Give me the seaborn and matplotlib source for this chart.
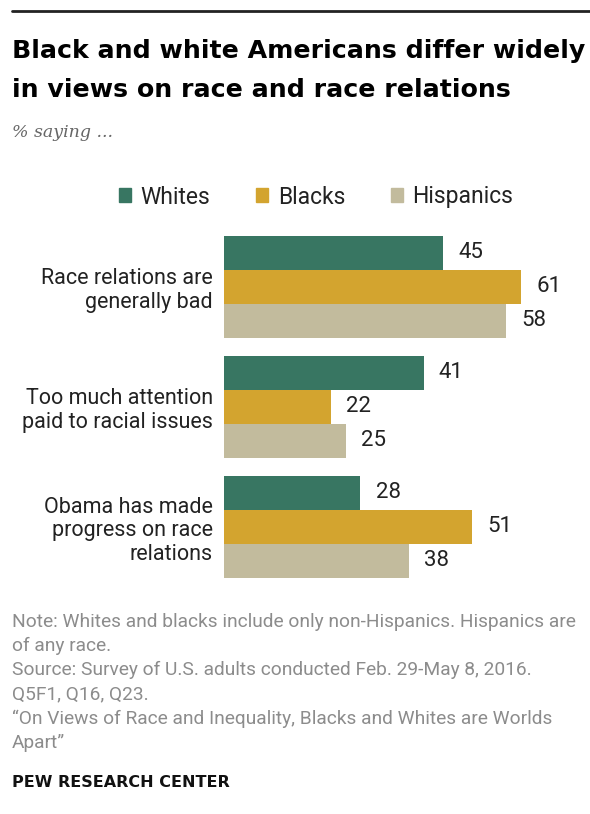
import matplotlib
matplotlib.use("Agg")
import matplotlib.pyplot as plt
import seaborn as sns
import pandas as pd

# Survey results (% saying ...)
statements = [
    "Race relations are\ngenerally bad",
    "Too much attention\npaid to racial issues",
    "Obama has made\nprogress on race\nrelations",
]
groups = ["Whites", "Blacks", "Hispanics"]
whites = [45, 41, 28]
blacks = [61, 22, 51]
hispanics = [58, 25, 38]
colors = ["#387662", "#d3a42f", "#c2bb9d"]

df = pd.DataFrame({
    "statement": statements * 3,
    "group": [g for g in groups for _ in statements],
    "value": whites + blacks + hispanics,
})

sns.set_style("white")
plt.rcParams["font.family"] = ["Roboto", "DejaVu Sans"]

fig = plt.figure(figsize=(5.9, 8.14), dpi=100)
W, H = 590, 814

ax = fig.add_axes([224 / W, 1 - 587 / H, 365 / W, 360 / H])
sns.barplot(data=df, y="statement", x="value", hue="group", order=statements,
            hue_order=groups, palette=colors, orient="h", width=0.85,
            saturation=1, ax=ax, legend=False, linewidth=0)

ax.set_xlim(0, 75)
ax.set_ylim(2.5, -0.5)
ax.set_xlabel("")
ax.set_ylabel("")
ax.set_xticks([])
ax.tick_params(axis="y", length=0, pad=8, labelsize=15.5, labelcolor="#222222")
for lbl in ax.get_yticklabels():
    lbl.set_multialignment("right")
    lbl.set_linespacing(1.15)
for s in ax.spines.values():
    s.set_visible(False)

for cont in ax.containers:
    ax.bar_label(cont, padding=11, fontsize=16, color="#222222")

# Legend across the top of the bars
handles = [plt.Rectangle((0, 0), 1, 1, color=c) for c in colors]
fig.legend(handles, groups, loc="center", bbox_to_anchor=(316 / W, 1 - 197 / H),
           ncol=3, frameon=False, fontsize=16.5, handlelength=0.55,
           handleheight=0.55, handletextpad=0.4, columnspacing=2.0,
           labelcolor="#222222")

# Top rule
fig.add_artist(plt.Line2D([12 / W, 1.0], [1 - 11 / H, 1 - 11 / H],
                          color="#222222", linewidth=2, transform=fig.transFigure))

# Title and subtitle
title_font = dict(fontsize=18.2, fontweight="bold", color="#000000",
                  va="baseline", family=["DejaVu Sans"])
fig.text(12 / W, 1 - 58 / H, "Black and white Americans differ widely", **title_font)
fig.text(12 / W, 1 - 97 / H, "in views on race and race relations", **title_font)
fig.text(12 / W, 1 - 137 / H, "% saying ...", fontsize=12.5, style="italic",
         family=["DejaVu Serif"], color="#666666", va="baseline")

# Notes
notes = [
    "Note: Whites and blacks include only non-Hispanics. Hispanics are",
    "of any race.",
    "Source: Survey of U.S. adults conducted Feb. 29-May 8, 2016.",
    "Q5F1, Q16, Q23.",
    "\u201cOn Views of Race and Inequality, Blacks and Whites are Worlds",
    "Apart\u201d",
]
for i, line in enumerate(notes):
    fig.text(12 / W, 1 - (627 + 24.2 * i) / H, line, fontsize=13.8,
             color="#8c8c8c", va="baseline")
fig.text(12 / W, 1 - 787 / H, "PEW RESEARCH CENTER", fontsize=11.5,
         fontweight="bold", color="#111111", va="baseline",
         family=["DejaVu Sans"])

fig.savefig("out.png", dpi=100)
